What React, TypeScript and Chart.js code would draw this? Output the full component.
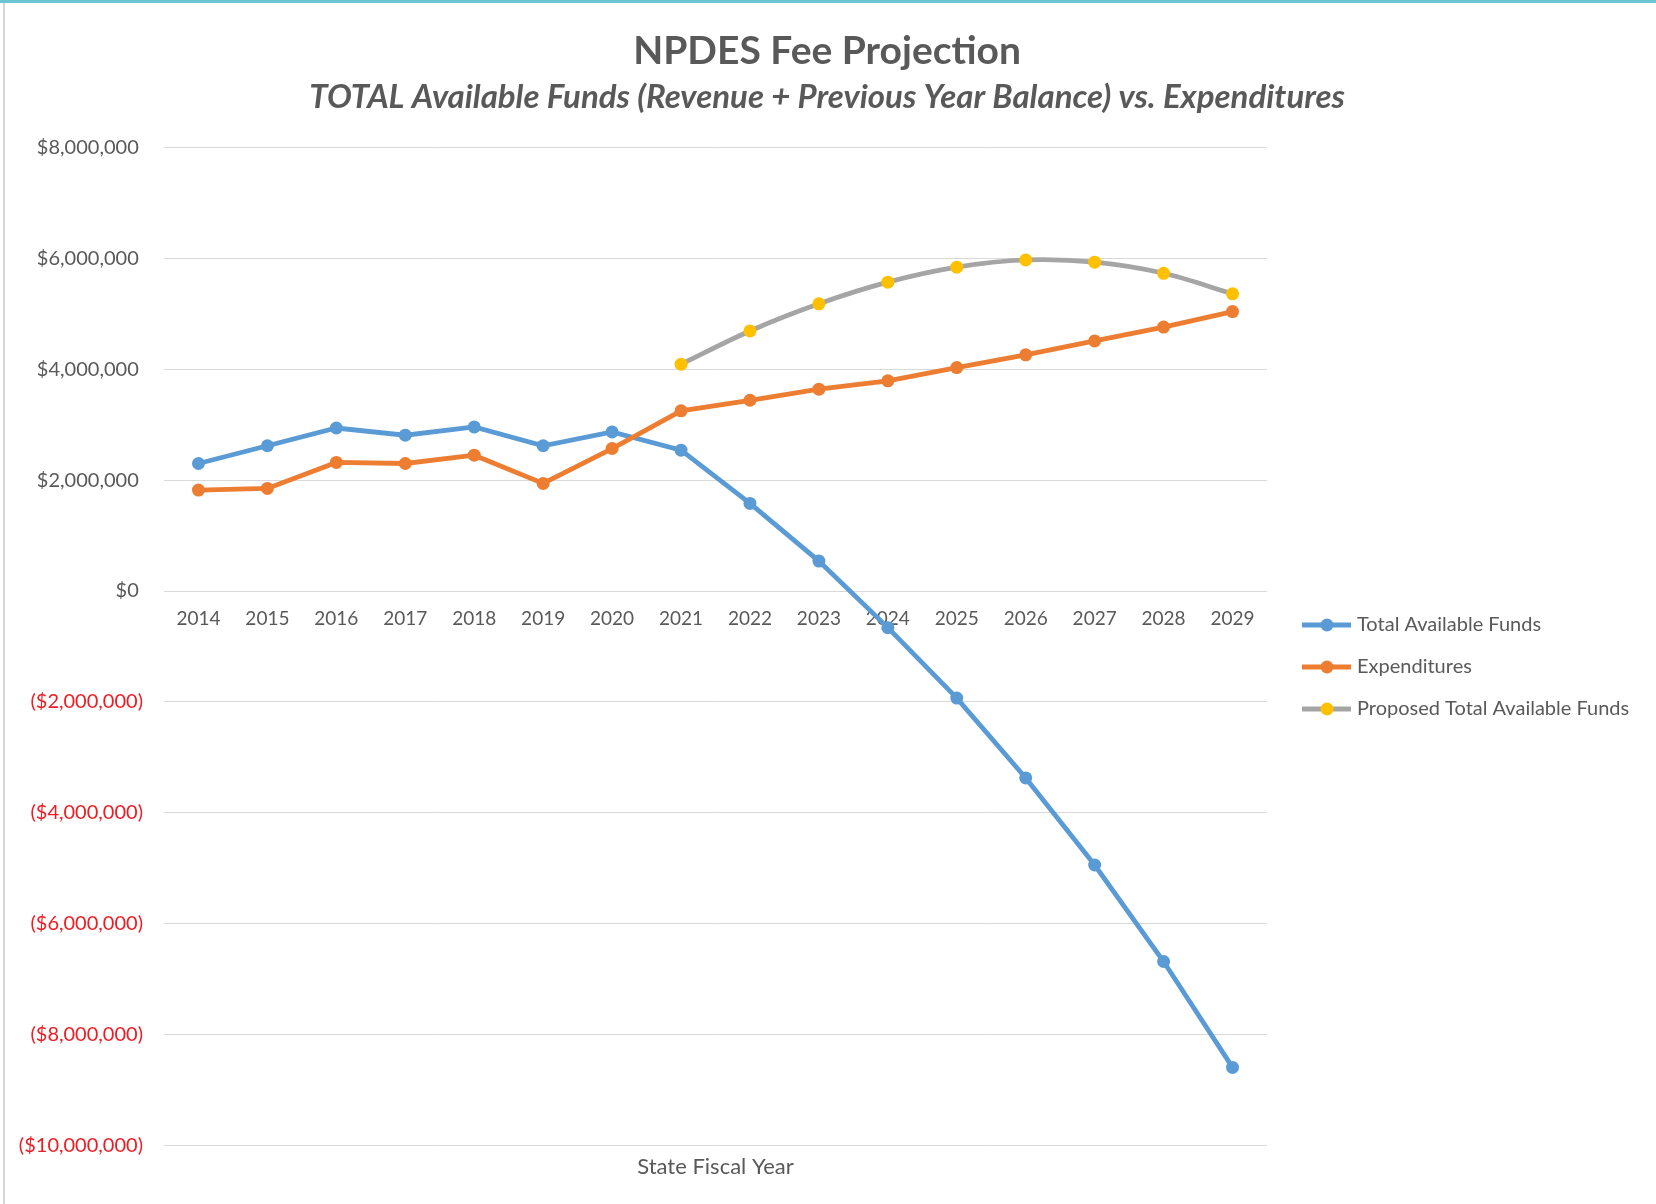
import { useEffect, useRef } from 'react';
import { Chart, registerables } from 'chart.js';

Chart.register(...registerables);

// ---- Data ----
const years = ['2014', '2015', '2016', '2017', '2018', '2019', '2020', '2021', '2022', '2023', '2024', '2025', '2026', '2027', '2028', '2029'];
const totalAvailableFunds = [2300000, 2620000, 2940000, 2810000, 2960000, 2620000, 2870000, 2540000, 1580000, 540000, -660000, -1930000, -3370000, -4940000, -6680000, -8590000];
const expenditures = [1820000, 1850000, 2320000, 2300000, 2450000, 1940000, 2570000, 3250000, 3440000, 3640000, 3790000, 4030000, 4260000, 4510000, 4760000, 5040000];
const proposedTotalAvailableFunds = [null, null, null, null, null, null, null, 4090000, 4690000, 5180000, 5570000, 5840000, 5970000, 5930000, 5730000, 5360000];
const seriesNames = ['Total Available Funds', 'Expenditures', 'Proposed Total Available Funds'];
const lineColors = ['#5B9BD5', '#ED7D31', '#A5A5A5'];
const pointColors = ['#5B9BD5', '#ED7D31', '#FFC000'];
const yMin = -10000000;
const yMax = 8000000;
const yStep = 2000000;
const chartTitle = 'NPDES Fee Projection';
const chartSubtitle = 'TOTAL Available Funds (Revenue + Previous Year Balance) vs. Expenditures';
const xAxisTitle = 'State Fiscal Year';

const FONT = 'Lato';
const TEXT = '#595959';
const NEG = '#EE1D23';
const W = 1656;
const H = 1204;
const AREA_LEFT = 164;
const AREA_RIGHT = 1267;
const PAD_LEFT = 15;
const LEGEND_FONT = 20;
const LEGEND_PAD = 22;
const PSW = 58;

function makeSymbol(lineColor: string, pointColor: string) {
  const c = document.createElement('canvas');
  c.width = 100;
  c.height = 20;
  const g = c.getContext('2d')!;
  const cx = 50;
  g.strokeStyle = lineColor;
  g.lineWidth = 4.8;
  g.beginPath();
  g.moveTo(cx - 16, 10);
  g.lineTo(cx + 33, 10);
  g.stroke();
  g.fillStyle = pointColor;
  g.beginPath();
  g.arc(cx + 9, 10, 6.5, 0, Math.PI * 2);
  g.fill();
  return c;
}

function fmtMoney(v: number) {
  const s = Math.abs(v).toLocaleString('en-US');
  return v < 0 ? '($' + s + ')' : '$' + s + '\u2008';
}

export default function App() {
  const ref = useRef<HTMLCanvasElement>(null);

  useEffect(() => {
    const canvas = ref.current!;
    const meas = document.createElement('canvas').getContext('2d')!;
    meas.font = `${LEGEND_FONT}px ${FONT}`;
    const tw = Math.max(...seriesNames.map((n) => meas.measureText(n).width));
    const legendW = LEGEND_PAD + PSW + LEGEND_FONT / 2 + tw + 10;
    const padR = Math.max(0, W - AREA_RIGHT - legendW);
    const symbols = lineColors.map((c, i) => makeSymbol(c, pointColors[i]));

    const legendShift = {
      id: 'legendShift',
      afterLayout(chart: any) {
        const lg = chart.legend;
        if (!lg) return;
        const colH = seriesNames.length * (LEGEND_FONT + LEGEND_PAD);
        const firstCenter = (lg.top + LEGEND_PAD + lg.bottom - colH) / 2 + LEGEND_FONT / 2;
        const d = 625 - firstCenter;
        lg.top += d;
        lg.bottom += d;
      },
    };

    const series = [totalAvailableFunds, expenditures, proposedTotalAvailableFunds];
    const chart = new Chart(canvas, {
      type: 'line',
      data: {
        labels: years,
        datasets: series.map((data, i) => ({
          label: seriesNames[i],
          data,
          borderColor: lineColors[i],
          backgroundColor: pointColors[i],
          pointBackgroundColor: pointColors[i],
          pointBorderColor: pointColors[i],
          borderWidth: 4.8,
          pointRadius: 6.5,
          pointBorderWidth: 0,
          tension: i === 2 ? 0.35 : 0,
          order: 3 - i,
          xAxisID: 'x',
          yAxisID: 'y',
        })),
      },
      options: {
        responsive: false,
        animation: false,
        devicePixelRatio: 1,
        layout: { padding: { left: PAD_LEFT, right: padR, top: 0, bottom: 0 } },
        plugins: {
          title: {
            display: true,
            text: chartTitle,
            color: TEXT,
            font: { family: FONT, size: 39, weight: 'bold' },
            padding: { top: 28, bottom: 0 },
          },
          subtitle: {
            display: true,
            text: chartSubtitle,
            color: TEXT,
            font: { family: FONT, size: 33, weight: 'bold', style: 'italic' },
            padding: { top: 3, bottom: 30 },
          },
          legend: {
            display: true,
            position: 'right',
            align: 'center',
            fullSize: false,
            labels: {
              usePointStyle: true,
              pointStyleWidth: PSW,
              padding: LEGEND_PAD,
              color: TEXT,
              font: { family: FONT, size: LEGEND_FONT },
              generateLabels: (ch: any) => {
                const items = Chart.defaults.plugins.legend.labels.generateLabels(ch);
                return items
                  .map((it: any) => ({ ...it, pointStyle: symbols[it.datasetIndex], fontColor: TEXT }))
                  .sort((a: any, b: any) => a.datasetIndex - b.datasetIndex);
              },
            },
          },
          tooltip: { enabled: false },
        },
        scales: {
          x: {
            type: 'category',
            position: { y: 0 } as any,
            offset: true,
            grid: { display: false, drawTicks: false },
            border: { display: false },
            ticks: {
              color: TEXT,
              font: { family: FONT, size: 19 },
              padding: 16,
              autoSkip: false,
              maxRotation: 0,
            },
          },
          x2: {
            type: 'category',
            position: 'bottom',
            offset: true,
            grid: { display: false, drawTicks: false },
            border: { display: false },
            ticks: { display: false },
            title: {
              display: true,
              text: xAxisTitle,
              color: TEXT,
              font: { family: FONT, size: 22 },
              padding: { top: 8, bottom: 24 },
            },
          },
          y: {
            type: 'linear',
            position: 'left',
            min: yMin,
            max: yMax,
            grid: { color: '#D9D9D9', lineWidth: 1, drawTicks: false },
            border: { display: false },
            ticks: {
              stepSize: yStep,
              padding: 21,
              font: { family: FONT, size: 20 },
              color: (ctx: any) => (ctx.tick && ctx.tick.value < 0 ? NEG : TEXT),
              callback: (v: any) => fmtMoney(Number(v)),
            },
            afterFit: (scale: any) => {
              scale.width = AREA_LEFT - PAD_LEFT;
            },
          },
        },
      },
      plugins: [legendShift],
    } as any);

    return () => chart.destroy();
  }, []);

  return (
    <div style={{ position: 'fixed', left: 0, top: 0, width: W, height: H, background: '#ffffff', overflow: 'hidden' }}>
      <canvas ref={ref} width={W} height={H} style={{ display: 'block', width: W, height: H }} />
      <div style={{ position: 'absolute', left: 0, top: 0, width: W, height: 3, background: '#6CC4D3' }} />
      <div style={{ position: 'absolute', left: 3, top: 3, width: 2, height: H - 3, background: '#D6D6D6' }} />
    </div>
  );
}
